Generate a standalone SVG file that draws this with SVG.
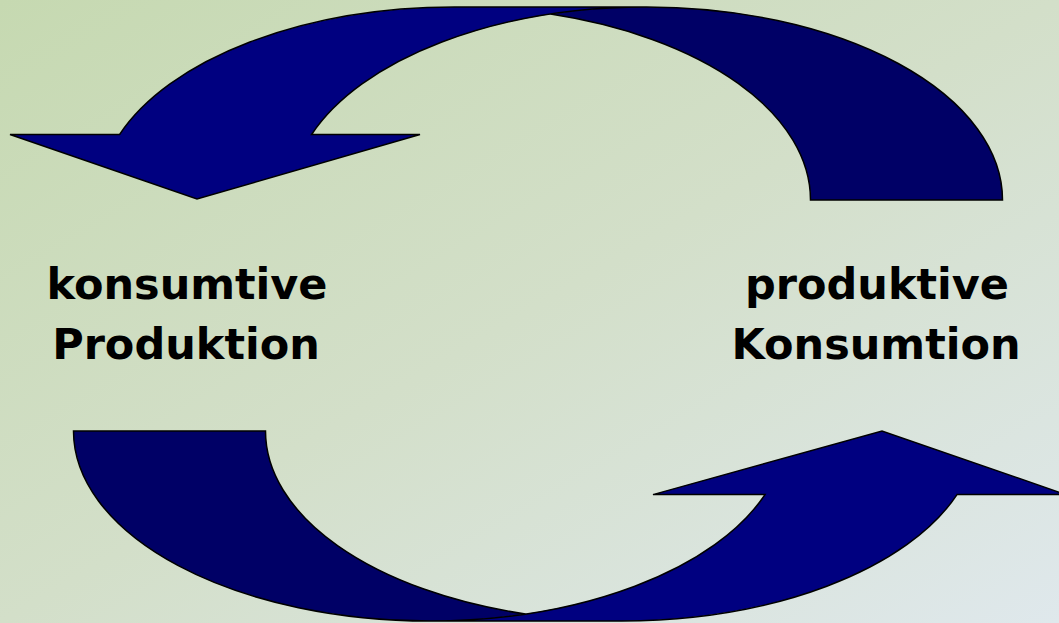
<svg xmlns="http://www.w3.org/2000/svg" width="1059" height="623" viewBox="0 0 1059 623">
  <defs>
    <linearGradient id="bg" x1="0" y1="0" x2="1" y2="1">
      <stop offset="0" stop-color="#c6d9b1"/>
      <stop offset="0.5" stop-color="#d3dfc9"/>
      <stop offset="1" stop-color="#dfe8ec"/>
    </linearGradient>
  </defs>
  <style>
    .front { fill: #000080; stroke: none; }
    .back { fill: #000066; stroke: none; }
    .outline { fill: none; stroke: #000000; stroke-width: 1.5; stroke-linejoin: miter; }
    .lbl { font-family: "DejaVu Sans", Verdana, sans-serif; font-weight: bold; font-size: 43px; fill: #000000; text-anchor: middle; }
  </style>
  <rect x="0" y="0" width="1059" height="623" fill="url(#bg)"/>

  <g id="connectors">
    <g id="arrow-top">
      <path class="front" d="M 197,199 L 10,134.5 L 119.6,134.5 A 356 193 0 0 1 454.5,7 L 646.5,7 A 356 193 0 0 0 311.6,134.5 L 420,134.5 Z"/>
      <path class="back" d="M 550.5,14.1 A 356 193 0 0 1 810.5,200 L 1002.5,200 A 356 193 0 0 0 550.5,14.1 Z"/>
      <path class="outline" d="M 550.5,14.1 A 356 193 0 0 1 810.5,200 L 1002.5,200 A 356 193 0 0 0 646.5,7 L 454.5,7 A 356 193 0 0 0 119.6,134.5 L 10,134.5 L 197,199 L 420,134.5 L 311.6,134.5 A 356 193 0 0 1 646.5,7"/>
    </g>
    <g id="arrow-bottom">
      <path class="front" d="M 882,431 L 1066,494.6 L 957,494.6 A 356 190 0 0 1 621.5,621 L 429.5,621 A 356 190 0 0 0 765,494.6 L 653,494.6 Z"/>
      <path class="back" d="M 525.5,614 A 356 190 0 0 1 265.5,431 L 73.5,431 A 356 190 0 0 0 525.5,614 Z"/>
      <path class="outline" d="M 525.5,614 A 356 190 0 0 1 265.5,431 L 73.5,431 A 356 190 0 0 0 429.5,621 L 621.5,621 A 356 190 0 0 0 957,494.6 L 1066,494.6 L 882,431 L 653,494.6 L 765,494.6 A 356 190 0 0 1 429.5,621"/>
    </g>
  </g>

  <g id="node-konsumtive-produktion">
    <text class="lbl" x="187" y="299">konsumtive</text>
    <text class="lbl" x="186" y="359">Produktion</text>
  </g>
  <g id="node-produktive-konsumtion">
    <text class="lbl" x="877" y="299">produktive</text>
    <text class="lbl" x="876" y="359">Konsumtion</text>
  </g>
</svg>
